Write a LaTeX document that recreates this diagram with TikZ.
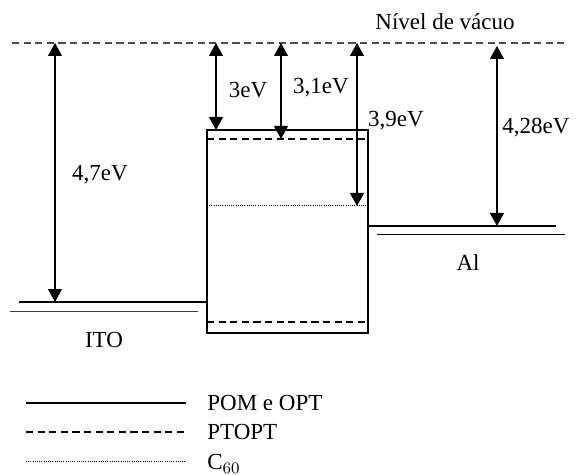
\documentclass[tikz,border=0pt]{standalone}
\usepackage{fontspec}
\setmainfont{Liberation Serif}
\usetikzlibrary{arrows.meta}
\tikzset{
    >={Triangle[length=6.5pt, width=7pt]}, % filled triangular heads
    level/.style={line width=0.6pt, draw=black},
    vacuum/.style={line width=0.6pt, draw=black!70, dash pattern=on 3.6pt off 2.2pt},
    ptopt/.style={line width=0.6pt, draw=black, dash pattern=on 3.6pt off 2.2pt},
    cdots/.style={line width=0.5pt, draw=black, dash pattern=on 0.5pt off 0.6pt},
    gap/.style={<->, line width=0.6pt},
    textlabel/.style={font=\fontsize{11.5}{13}\selectfont, text=black, inner sep=0pt}
}

\begin{document}
\begin{tikzpicture}[x=0.5pt, y=-0.5pt]
    \useasboundingbox (0,0) rectangle (582,475);

    % =========================================================================
    % VACUUM LEVEL
    % =========================================================================
    \draw[vacuum] (12,43) -- (567,43);
    \node[textlabel] (vac) at (445,22) {Nível de vácuo};

    % =========================================================================
    % ITO (left electrode)
    % =========================================================================
    \draw[level] (19,302) -- (207,302);
    \draw[line width=0.5pt, black!75] (10,311) -- (198,311);
    \node[textlabel] (ito) at (104,340) {ITO};

    % =========================================================================
    % ACTIVE LAYER: POM/OPT box with PTOPT and C60 levels
    % =========================================================================
    \draw[level] (207,130) rectangle (368,333);
    \draw[ptopt] (207,139) -- (368,139);
    \draw[ptopt] (207,322) -- (368,322);
    \draw[cdots] (207,206) -- (368,206);

    % =========================================================================
    % Al (right electrode)
    % =========================================================================
    \draw[level] (368,226) -- (556,226);
    \draw[line width=0.5pt] (377,235) -- (565,235);
    \node[textlabel] (al) at (468,263) {Al};

    % =========================================================================
    % ENERGY GAPS measured from the vacuum level
    % =========================================================================
    \coordinate (itoVac) at (55,43);   \coordinate (itoLev) at (55,302);
    \coordinate (pomVac) at (216,43);  \coordinate (pomLev) at (216,130);
    \coordinate (ptVac)  at (281,43);  \coordinate (ptLev)  at (281,139);
    \coordinate (cVac)   at (357,43);  \coordinate (cLev)   at (357,206);
    \coordinate (alVac)  at (497,46);  \coordinate (alLev)  at (497,226);

    \draw[gap] (itoVac) -- (itoLev);
    \draw[gap] (pomVac) -- (pomLev);
    \draw[gap] (ptVac) -- (ptLev);
    \draw[gap] (cVac) -- (cLev);
    \draw[gap] (alVac) -- (alLev);

    \node[textlabel] (eIto) at (100,175) {4,7eV};
    \node[textlabel] (ePom) at (248,90) {3eV};
    \node[textlabel] (ePt)  at (321,88) {3,1eV};
    \node[textlabel] (eC)   at (396,121) {3,9eV};
    \node[textlabel] (eAl)  at (536,128) {4,28eV};

    % =========================================================================
    % LEGEND
    % =========================================================================
    \draw[level] (26,403) -- (186,403);
    \draw[ptopt] (26,432) -- (186,432);
    \draw[cdots] (26,461) -- (186,461);
    \node[textlabel, anchor=west] (lgPom) at (207,403) {POM e OPT};
    \node[textlabel, anchor=west] (lgPt)  at (207,432) {PTOPT};
    \node[textlabel, anchor=west] (lgC)   at (207,464) {C$_{60}$};
\end{tikzpicture}
\end{document}
